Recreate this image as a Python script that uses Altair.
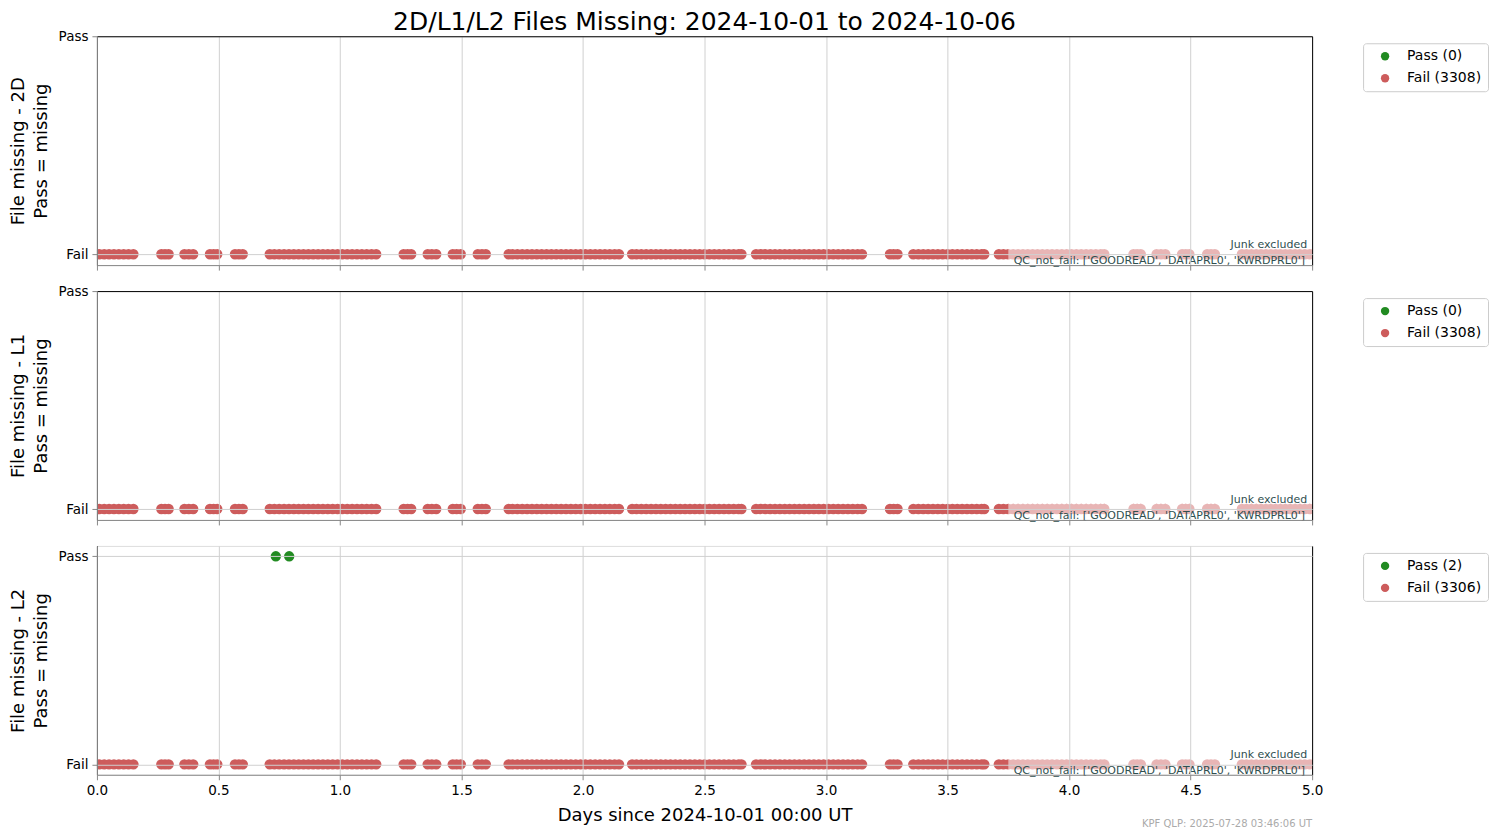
import altair as alt
import pandas as pd

FONT = "DejaVu Sans"

fail_clusters = [
    [0.01, 0.03, 0.05, 0.07, 0.09, 0.11, 0.13, 0.15],
    [0.265, 0.28, 0.295],
    [0.36, 0.378, 0.396],
    [0.465, 0.48, 0.495],
    [0.568, 0.584, 0.60],
    [0.711, 0.73, 0.75, 0.77, 0.79, 0.81, 0.83, 0.85, 0.87, 0.89, 0.91, 0.93,
     0.95, 0.97, 0.99, 1.01, 1.03, 1.05, 1.07, 1.09, 1.11, 1.13, 1.149],
    [1.262, 1.278, 1.293],
    [1.361, 1.378, 1.396],
    [1.464, 1.48, 1.497],
    [1.567, 1.584, 1.60],
    [1.694, 1.71, 1.73, 1.75, 1.77, 1.79, 1.81, 1.83, 1.85, 1.87, 1.89, 1.91,
     1.93, 1.95, 1.97, 1.99, 2.01, 2.03, 2.05, 2.07, 2.09, 2.11, 2.13, 2.148],
    [2.202, 2.22, 2.24, 2.26, 2.28, 2.30, 2.32, 2.34, 2.36, 2.38, 2.40, 2.42,
     2.44, 2.46, 2.48, 2.50, 2.52, 2.54, 2.56, 2.58, 2.60, 2.62, 2.64, 2.652],
    [2.712, 2.73, 2.75, 2.77, 2.79, 2.81, 2.83, 2.85, 2.87, 2.89, 2.91, 2.93,
     2.95, 2.97, 2.99, 3.01, 3.03, 3.05, 3.07, 3.09, 3.11, 3.13, 3.148],
    [3.263, 3.278, 3.294],
    [3.359, 3.38, 3.40, 3.42, 3.44, 3.46, 3.48, 3.50, 3.52, 3.54, 3.56, 3.58,
     3.60, 3.62, 3.64, 3.651],
    [3.711, 3.73, 3.75, 3.77, 3.79, 3.81, 3.83, 3.85, 3.87, 3.89, 3.91, 3.93,
     3.95, 3.97, 3.99, 4.01, 4.03, 4.05, 4.07, 4.09, 4.11, 4.13, 4.145],
    [4.265, 4.28, 4.295],
    [4.36, 4.378, 4.396],
    [4.465, 4.48, 4.495],
    [4.568, 4.584, 4.60],
    [4.711, 4.73, 4.75, 4.77, 4.79, 4.81, 4.83, 4.85, 4.87, 4.89, 4.91, 4.93,
     4.95, 4.97, 4.99, 5.01],
]
fail_x = [v for c in fail_clusters for v in c]

panel_names = ["2D", "L1", "L2"]
pass_counts = [0, 0, 2]
fail_counts = [3308, 3308, 3306]
pass_points = [[], [], [0.736, 0.791]]
y_domains = [[-0.05, 1.0], [-0.05, 1.0], [-0.05, 1.05]]
x_ticks = [0.0, 0.5, 1.0, 1.5, 2.0, 2.5, 3.0, 3.5, 4.0, 4.5, 5.0]

TITLE = "2D/L1/L2 Files Missing: 2024-10-01 to 2024-10-06"
PASS_COLOR = "#228b22"
FAIL_COLOR = "#cd5c5c"
GRID = "#d0d0d0"
W, H = 1216, 229

one = pd.DataFrame({"a": [0]})


def panel(i):
    pl = f"Pass ({pass_counts[i]})"
    fl = f"Fail ({fail_counts[i]})"
    rows = [{"x": v, "y": 0, "status": fl} for v in fail_x]
    rows += [{"x": v, "y": 1, "status": pl} for v in pass_points[i]]
    df = pd.DataFrame(rows)
    bottom = i == 2
    top_edge = y_domains[i][1]
    xaxis = alt.Axis(
        values=x_ticks, format=".1f", grid=True, labels=bottom,
        title="Days since 2024-10-01 00:00 UT" if bottom else None,
        titleFontSize=18, titleFontWeight="normal", titlePadding=9,
        labelPadding=4, tickSize=5, labelFontSize=13.5, zindex=1,
        labelFlush=False,
        gridColor={"condition": {"test": "datum.value <= 0 || datum.value >= 5",
                                 "value": "black"}, "value": GRID},
    )
    yaxis = alt.Axis(
        values=[0, 1], labelExpr="datum.value == 1 ? 'Pass' : 'Fail'",
        grid=True, tickSize=5, labelPadding=4, labelFontSize=13.5,
        title=[f"File missing - {panel_names[i]}", "Pass = missing"],
        titleFontSize=18, titleFontWeight="normal", titleLineHeight=23,
        titlePadding=8, zindex=1,
        gridColor={"condition": {"test": f"datum.value >= {top_edge}",
                                 "value": "black"}, "value": GRID},
    )
    pts = alt.Chart(df).mark_circle(size=108, opacity=1, clip=True).encode(
        x=alt.X("x:Q", scale=alt.Scale(domain=[0, 5], nice=False, zero=False), axis=xaxis),
        y=alt.Y("y:Q", scale=alt.Scale(domain=y_domains[i], nice=False, zero=False), axis=yaxis),
        color=alt.Color(
            "status:N",
            scale=alt.Scale(domain=[pl, fl], range=[PASS_COLOR, FAIL_COLOR]),
            legend=alt.Legend(
                title=None, orient="none", legendX=1267, legendY=7,
                strokeColor="#cccccc", fillColor="white", cornerRadius=3,
                padding=6, labelFontSize=14, labelFont=FONT, labelColor="black",
                symbolSize=70, symbolType="circle", rowPadding=8,
                symbolOffset=9, labelOffset=15,
            ),
        ),
    )
    box = alt.Chart(one).mark_rect(color="white", opacity=0.55).encode(
        x=alt.value(912), x2=alt.value(W), y=alt.value(213), y2=alt.value(H)
    )
    t1 = alt.Chart(one).mark_text(
        align="right", baseline="alphabetic", fontSize=11, font=FONT, color="#2f4f4f"
    ).encode(x=alt.value(1211), y=alt.value(212), text=alt.value("Junk excluded"))
    t2 = alt.Chart(one).mark_text(
        align="right", baseline="alphabetic", fontSize=11, font=FONT, color="#2f4f4f"
    ).encode(
        x=alt.value(1209), y=alt.value(228),
        text=alt.value("QC_not_fail: ['GOODREAD', 'DATAPRL0', 'KWRDPRL0']"),
    )
    layers = [pts, box, t1, t2]
    if i == 0:
        ttl = alt.Chart(one).mark_text(
            align="center", baseline="middle", fontSize=25, font=FONT, color="black"
        ).encode(x=alt.value(W / 2), y=alt.value(-14), text=alt.value(TITLE))
        layers.append(ttl)
    if bottom:
        foot = alt.Chart(one).mark_text(
            align="right", baseline="alphabetic", fontSize=10, font=FONT, color="#aaaaaa"
        ).encode(x=alt.value(W), y=alt.value(281), text=alt.value("KPF QLP: 2025-07-28 03:46:06 UT"))
        layers.append(foot)
    return alt.layer(*layers).properties(width=W, height=H)


chart = (
    alt.vconcat(panel(0), panel(1), panel(2), spacing=26, bounds="flush")
    .resolve_scale(y="independent", color="independent")
    .resolve_legend(color="independent")
    .properties(padding={"left": 0, "top": 1, "right": 0, "bottom": 0})
    .configure_view(stroke="black", strokeWidth=1)
    .configure_axis(
        domainColor="black", tickColor="black", labelColor="black",
        titleColor="black", labelFont=FONT,
        titleFont=FONT, titleFontWeight="normal",
    )
    .configure(font=FONT)
)

chart.save("out.html", embed_options={"renderer": "svg", "actions": False})
